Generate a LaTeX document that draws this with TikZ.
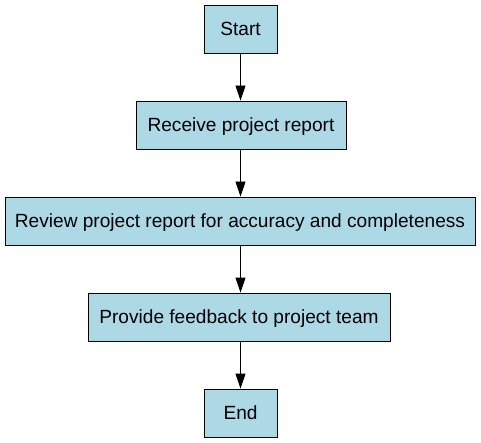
\documentclass[tikz,border=0pt]{standalone}
\usepackage{fontspec}
\setmainfont{Liberation Sans}
\usetikzlibrary{arrows.meta}
\definecolor{boxfill}{RGB}{173,216,230}
\begin{document}
\begin{tikzpicture}[x=1pt,y=-1pt,
  stepbox/.style={draw=black, line width=0.9pt, fill=boxfill, minimum height=48pt, inner sep=0pt, text height=13.7pt, text depth=0pt, font=\fontsize{19.1}{22}\selectfont},
  flow/.style={-{Triangle[length=15pt,width=10pt]}, line width=0.9pt, black}]
\useasboundingbox (0,0) rectangle (481,443);
\node[stepbox, minimum width=73pt] (start) at (240.5,29) {Start};
\node[stepbox, minimum width=210pt] (recv) at (241,125) {Receive project report};
\node[stepbox, minimum width=470pt] (review) at (240,221) {Review project report for accuracy and completeness};
\node[stepbox, minimum width=302pt] (feed) at (239,317) {Provide feedback to project team};
\node[stepbox, minimum width=73pt] (end) at (240.5,413) {End};
\draw[flow] (start) -- (start |- recv.north);
\draw[flow] (recv.south -| start) -- (start |- review.north);
\draw[flow] (review.south -| start) -- (start |- feed.north);
\draw[flow] (feed.south -| start) -- (end);
\end{tikzpicture}
\end{document}
